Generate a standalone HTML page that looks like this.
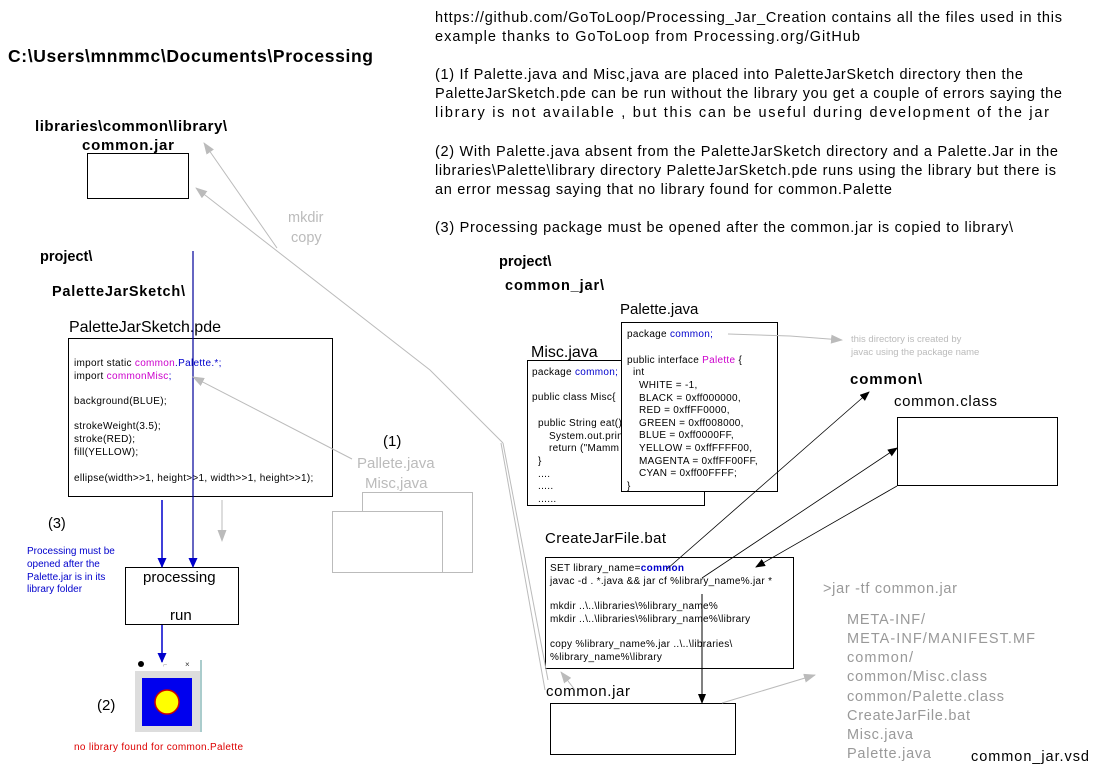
<!DOCTYPE html>
<html><head><meta charset="utf-8"><style>
html,body{margin:0;padding:0;background:#fff}
svg{display:block}
text{font-family:"Liberation Sans",Arial,sans-serif}
.c{font-size:10px;fill:#000;letter-spacing:0.3px}
.p{font-size:14.5px;fill:#000}
.b{font-weight:bold}
</style></head><body>
<svg width="1107" height="773" viewBox="0 0 1107 773" xmlns="http://www.w3.org/2000/svg">
<defs>
<marker id="ab" markerWidth="10" markerHeight="8" refX="9" refY="4" orient="auto" markerUnits="userSpaceOnUse"><path d="M0,0L10,4L0,8z" fill="#000"/></marker>
<marker id="ag" markerWidth="12" markerHeight="9" refX="11" refY="4.5" orient="auto" markerUnits="userSpaceOnUse"><path d="M0,0L12,4.5L0,9z" fill="#bbb"/></marker>
<marker id="au" markerWidth="10" markerHeight="9" refX="9" refY="4.5" orient="auto" markerUnits="userSpaceOnUse"><path d="M0,0L10,4.5L0,9z" fill="#0000cc"/></marker>
</defs>

<g class="p">
<text x="435" y="22" class="p" textLength="627" lengthAdjust="spacing">https://github.com/GoToLoop/Processing_Jar_Creation  contains all the files used in this</text>
<text x="435" y="41" class="p" textLength="425" lengthAdjust="spacing">example  thanks to   GoToLoop from Processing.org/GitHub</text>
<text x="435" y="79" class="p" textLength="588" lengthAdjust="spacing">(1) If Palette.java and Misc,java are placed into PaletteJarSketch directory then the</text>
<text x="435" y="98" class="p" textLength="627" lengthAdjust="spacing">PaletteJarSketch.pde can be run without the library you get a couple of errors saying the</text>
<text x="435" y="117" class="p" textLength="614" lengthAdjust="spacing">library is not available , but this can be useful during development of the jar</text>
<text x="435" y="156" class="p" textLength="623" lengthAdjust="spacing">(2) With Palette.java absent from the PaletteJarSketch directory and a Palette.Jar in the</text>
<text x="435" y="175" class="p" textLength="621" lengthAdjust="spacing">libraries\Palette\library directory PaletteJarSketch.pde runs using the library but there is</text>
<text x="435" y="194" class="p" textLength="457" lengthAdjust="spacing">an error messag saying that no library found for common.Palette</text>
<text x="435" y="232" class="p" textLength="578" lengthAdjust="spacing">(3) Processing package must be opened after the common.jar is copied to library\</text>
</g>

<text x="8" y="62" font-size="17.5" class="b" textLength="365" lengthAdjust="spacing">C:\Users\mnmmc\Documents\Processing</text>
<text x="35" y="131" font-size="15" class="b" textLength="192" lengthAdjust="spacing">libraries\common\library\</text>
<text x="82" y="150" font-size="15" class="b" textLength="92" lengthAdjust="spacing">common.jar</text>
<rect x="87.5" y="153.5" width="101" height="45" fill="none" stroke="#000"/>
<text x="288" y="222" font-size="14.5" fill="#bbb">mkdir</text>
<text x="291" y="242" font-size="14.5" fill="#bbb">copy</text>
<text x="40" y="261" font-size="14.5" class="b">project\</text>
<text x="52" y="296" font-size="14.5" class="b" textLength="133" lengthAdjust="spacing">PaletteJarSketch\</text>
<text x="69" y="332" font-size="16" textLength="152" lengthAdjust="spacing">PaletteJarSketch.pde</text>
<rect x="68.5" y="338.5" width="264" height="158" fill="#fff" stroke="#000"/>
<g class="c">
<text x="74" y="366" class="c">import static <tspan fill="#cc00cc">common</tspan><tspan fill="#0000cc">.Palette.*;</tspan></text>
<text x="74" y="379" class="c">import <tspan fill="#cc00cc">commonMisc</tspan><tspan fill="#0000cc">;</tspan></text>
<text x="74" y="404" class="c">background(BLUE);</text>
<text x="74" y="429" class="c">strokeWeight(3.5);</text>
<text x="74" y="442" class="c">stroke(RED);</text>
<text x="74" y="455" class="c">fill(YELLOW);</text>
<text x="74" y="481" class="c">ellipse(width&gt;&gt;1, height&gt;&gt;1, width&gt;&gt;1, height&gt;&gt;1);</text>
</g>

<text x="48" y="528" font-size="14.5">(3)</text>
<g font-size="10" fill="#0000cc">
<text x="27" y="554">Processing must be</text>
<text x="27" y="567">opened after the</text>
<text x="27" y="580">Palette.jar is in its</text>
<text x="27" y="592">library folder</text>
</g>
<rect x="125.5" y="567.5" width="113" height="57" fill="#fff" stroke="#000"/>
<text x="143" y="582" font-size="15">processing</text>
<text x="170" y="620" font-size="15">run</text>

<circle cx="141" cy="664" r="3" fill="#000"/>
<text x="163" y="667" font-size="7" fill="#999">⌐</text>
<text x="185" y="667" font-size="8" fill="#333">×</text>
<rect x="135" y="671" width="66" height="61" fill="#ddd"/>
<rect x="200" y="660" width="2" height="72" fill="#aacccc"/>
<rect x="142" y="678" width="50" height="48" fill="#0000ee"/>
<circle cx="167" cy="702" r="12" fill="#ffff00" stroke="#cc0000" stroke-width="1.5"/>
<text x="97" y="710" font-size="15">(2)</text>
<text x="74" y="750" font-size="10" fill="#dd0000" textLength="169" lengthAdjust="spacing">no library found for common.Palette</text>

<text x="383" y="446" font-size="15">(1)</text>
<text x="357" y="468" font-size="15" fill="#bbb">Pallete.java</text>
<text x="365" y="488" font-size="15" fill="#bbb">Misc,java</text>
<rect x="362.5" y="492.5" width="110" height="80" fill="#fff" stroke="#bbb"/>
<rect x="332.5" y="511.5" width="110" height="61" fill="#fff" stroke="#bbb"/>

<text x="499" y="266" font-size="14.5" class="b">project\</text>
<text x="505" y="290" font-size="14.5" class="b" textLength="99" lengthAdjust="spacing">common_jar\</text>
<text x="620" y="314" font-size="15">Palette.java</text>
<text x="531" y="357" font-size="16">Misc.java</text>
<rect x="527.5" y="360.5" width="177" height="145" fill="#fff" stroke="#000"/>
<g class="c">
<text x="532" y="375" class="c">package <tspan fill="#0000cc">common;</tspan></text>
<text x="532" y="400" class="c">public class Misc{</text>
<text x="538" y="426" class="c">public String eat()</text>
<text x="549" y="439" class="c">System.out.prin</text>
<text x="549" y="451" class="c">return ("Mamm</text>
<text x="538" y="464" class="c">}</text>
<text x="538" y="477" class="c">....</text>
<text x="538" y="489" class="c">.....</text>
<text x="538" y="502" class="c">......</text>
</g>
<rect x="621.5" y="322.5" width="156" height="169" fill="#fff" stroke="#000"/>
<g class="c">
<text x="627" y="337" class="c">package <tspan fill="#0000cc">common;</tspan></text>
<text x="627" y="363" class="c">public interface <tspan fill="#cc00cc">Palette</tspan> {</text>
<text x="633" y="375" class="c">int</text>
<text x="639" y="388" class="c">WHITE = -1,</text>
<text x="639" y="401" class="c">BLACK = 0xff000000,</text>
<text x="639" y="413" class="c">RED = 0xffFF0000,</text>
<text x="639" y="426" class="c">GREEN = 0xff008000,</text>
<text x="639" y="438" class="c">BLUE = 0xff0000FF,</text>
<text x="639" y="451" class="c">YELLOW = 0xffFFFF00,</text>
<text x="639" y="464" class="c">MAGENTA = 0xffFF00FF,</text>
<text x="639" y="476" class="c">CYAN = 0xff00FFFF;</text>
<text x="627" y="489" class="c">}</text>
</g>
<text x="851" y="342" font-size="9.5" fill="#bbb">this directory is created by</text>
<text x="851" y="355" font-size="9.5" fill="#bbb">javac using the package name</text>
<text x="850" y="384" font-size="15" class="b" textLength="72" lengthAdjust="spacing">common\</text>
<text x="894" y="406" font-size="15" textLength="103" lengthAdjust="spacing">common.class</text>
<rect x="897.5" y="417.5" width="160" height="68" fill="#fff" stroke="#000"/>

<text x="545" y="543" font-size="15" textLength="121" lengthAdjust="spacing">CreateJarFile.bat</text>
<rect x="545.5" y="557.5" width="248" height="111" fill="#fff" stroke="#000"/>
<g class="c">
<text x="550" y="571" class="c">SET  library_name=<tspan fill="#0000cc" font-weight="bold">common</tspan></text>
<text x="550" y="584" class="c">javac -d . *.java &amp;&amp; jar cf %library_name%.jar *</text>
<text x="550" y="609" class="c">mkdir ..\..\libraries\%library_name%</text>
<text x="550" y="622" class="c">mkdir ..\..\libraries\%library_name%\library</text>
<text x="550" y="647" class="c">copy %library_name%.jar ..\..\libraries\</text>
<text x="550" y="660" class="c">%library_name%\library</text>
</g>
<text x="546" y="696" font-size="15" textLength="84" lengthAdjust="spacing">common.jar</text>
<rect x="550.5" y="703.5" width="185" height="51" fill="#fff" stroke="#000"/>

<text x="823" y="593" font-size="14.5" fill="#999" textLength="134" lengthAdjust="spacing">&gt;jar -tf common.jar</text>
<g font-size="14.5" fill="#999">
<text x="847" y="624" textLength="78" lengthAdjust="spacing">META-INF/</text>
<text x="847" y="643" textLength="188" lengthAdjust="spacing">META-INF/MANIFEST.MF</text>
<text x="847" y="662" textLength="66" lengthAdjust="spacing">common/</text>
<text x="847" y="681" textLength="140" lengthAdjust="spacing">common/Misc.class</text>
<text x="847" y="701" textLength="157" lengthAdjust="spacing">common/Palette.class</text>
<text x="847" y="720" textLength="123" lengthAdjust="spacing">CreateJarFile.bat</text>
<text x="847" y="739" textLength="66" lengthAdjust="spacing">Misc.java</text>
<text x="847" y="758" textLength="84" lengthAdjust="spacing">Palette.java</text>
</g>
<text x="971" y="761" font-size="14.5" textLength="118" lengthAdjust="spacing">common_jar.vsd</text>

<g fill="none">
<line x1="193" y1="251" x2="193" y2="567" stroke="#000099" stroke-width="1.2" marker-end="url(#au)"/>
<line x1="162" y1="500" x2="162" y2="567" stroke="#0000cc" stroke-width="1.5" marker-end="url(#au)"/>
<line x1="162" y1="625" x2="162" y2="662" stroke="#0000cc" stroke-width="1.5" marker-end="url(#au)"/>
<line x1="222" y1="500" x2="222" y2="541" stroke="#bbb" marker-end="url(#ag)"/>
<line x1="352" y1="459" x2="193" y2="377" stroke="#bbb" marker-end="url(#ag)"/>
<polyline points="503,443 430,370 196,188" stroke="#bbb" marker-end="url(#ag)"/>
<line x1="277" y1="248" x2="204" y2="143" stroke="#bbb" marker-end="url(#ag)"/>
<polyline points="503,443 548,680" stroke="#bbb"/>
<polyline points="501,443 545,690" stroke="#bbb"/>
<line x1="575" y1="690" x2="561" y2="672" stroke="#bbb" marker-end="url(#ag)"/>
<polyline points="728,334 790,336 842,340" stroke="#bbb" marker-end="url(#ag)"/>
<line x1="667" y1="569" x2="869" y2="392" stroke="#000" stroke-width="0.8" marker-end="url(#ab)"/>
<line x1="702" y1="578" x2="897" y2="448" stroke="#000" stroke-width="0.8" marker-end="url(#ab)"/>
<line x1="897" y1="486" x2="756" y2="567" stroke="#000" stroke-width="0.8" marker-end="url(#ab)"/>
<line x1="702" y1="594" x2="702" y2="703" stroke="#000" stroke-width="1" marker-end="url(#ab)"/>
<line x1="722" y1="703" x2="815" y2="675" stroke="#bbb" marker-end="url(#ag)"/>
</g>
</svg>
</body></html>
